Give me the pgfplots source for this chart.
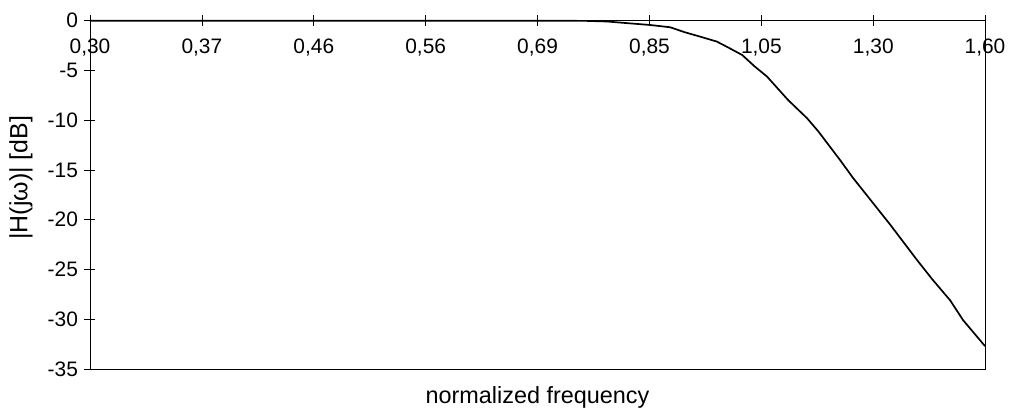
\documentclass[border=0pt]{standalone}
\usepackage{pgfplots}
\pgfplotsset{compat=1.18}
\usepackage{fontspec}
\setmainfont{Liberation Sans}
\usetikzlibrary{calc}
\begin{document}
\begin{tikzpicture}
\begin{axis}[
  scale only axis,
  width=895bp, height=348.3bp,
  xmode=log,
  xmin=0.3, xmax=1.6,
  ymin=-35, ymax=0,
  ytick={-35,-30,-25,-20,-15,-10,-5,0},
  xtick={0.3,0.36984,0.45594,0.56208,0.69293,0.85424,1.05311,1.29826,1.6},
  xticklabels={{0,30},{0,37},{0,46},{0,56},{0,69},{0,85},{1,05},{1,30},{1,60}},
  log ticks with fixed point,
  minor tick num=0,
  minor xtick={},
  xtick pos=upper,
  ytick pos=left,
  xticklabel pos=upper,
  tick align=center,
  major tick length=11bp,
  tick style={black, line width=0.6bp},
  axis line style={black, line width=0.8bp},
  /pgf/number format/assume math mode=true,
  ticklabel style={font=\fontsize{21}{24}\selectfont},
  xticklabel style={anchor=base, yshift=-38bp},
  yticklabel style={anchor=east, xshift=-3bp},
  xlabel={normalized frequency},
  ylabel={|H(jω)| [dB]},
  xlabel style={at={(axis description cs:0.5,-0.0977)}, anchor=base, font=\fontsize{23.5}{26}\selectfont},
  ylabel style={at={(axis description cs:-0.077,0.549)}, anchor=center, font=\fontsize{25}{28}\selectfont},
  clip=false,
]
\addplot[black, line width=1.7bp] coordinates {
(0.300,0) (0.400,0) (0.500,0) (0.600,0) (0.700,0) (0.760,-0.02)
(0.789,-0.08) (0.820,-0.25) (0.855,-0.43) (0.888,-0.66) (0.912,-1.15)
(0.939,-1.6) (0.969,-2.1) (0.990,-2.7) (1.016,-3.45) (1.040,-4.6)
(1.064,-5.6) (1.107,-7.97) (1.147,-9.8) (1.171,-11.1) (1.220,-14.0)
(1.250,-15.8) (1.300,-18.45) (1.340,-20.5) (1.409,-24.05) (1.450,-26.0)
(1.499,-28.1) (1.536,-30.1) (1.600,-32.7)
};
\end{axis}
\pgfresetboundingbox
\path ($(current axis.south west)+(-90bp,-39bp)$) rectangle ($(current axis.north east)+(25bp,20.7bp)$);
\end{tikzpicture}
\end{document}
